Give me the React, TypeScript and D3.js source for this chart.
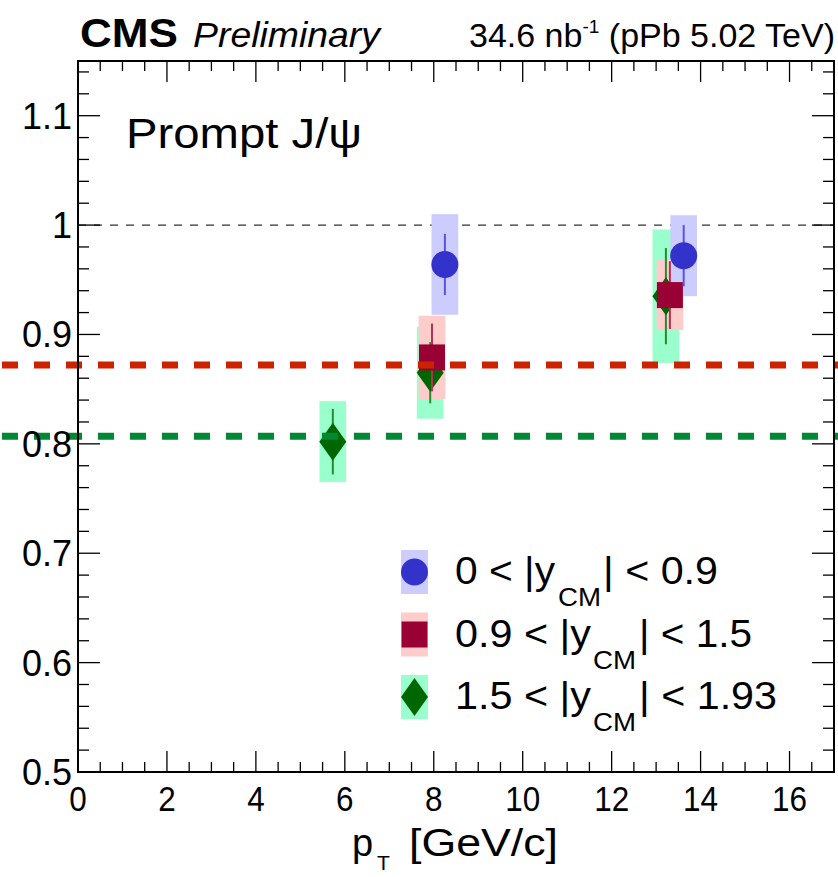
import React from "react";
import * as d3 from "d3";

// values
const xTicks = [0, 2, 4, 6, 8, 10, 12, 14, 16];
const yTicks = [0.5, 0.6, 0.7, 0.8, 0.9, 1, 1.1];
const yTickLabels = ["0.5", "0.6", "0.7", "0.8", "0.9", "1", "1.1"];

const bluePt = [8.25, 13.62];
const blueVal = [0.964, 0.972];
const blueStat = [0.028, 0.028];
const blueSyst = [0.046, 0.037];

const redPt = [7.96, 13.31];
const redVal = [0.879, 0.936];
const redStat = [0.031, 0.031];
const redSyst = [0.038, 0.032];

const greenPt = [5.73, 7.92, 13.22];
const greenVal = [0.802, 0.865, 0.935];
const greenStat = [0.03, 0.028, 0.044];
const greenSyst = [0.037, 0.042, 0.061];

const boxHalfWidth = 0.3;
const redLineVal = 0.872;
const greenLineVal = 0.807;

const W = 838;
const H = 877;
const margin = { top: 61, right: 4, bottom: 105, left: 78 };

const font = "'Liberation Sans', Arial, Helvetica, sans-serif";

const series = [
  { name: "green", pt: greenPt, val: greenVal, stat: greenStat, syst: greenSyst, marker: "diamond", color: "#006600", box: "#99ffcc", bar: "#2a8a2a" },
  { name: "red", pt: redPt, val: redVal, stat: redStat, syst: redSyst, marker: "square", color: "#990033", box: "#ffcccc", bar: "#b03355" },
  { name: "blue", pt: bluePt, val: blueVal, stat: blueStat, syst: blueSyst, marker: "circle", color: "#3333cc", box: "#ccccff", bar: "#5555dd" },
];

const Marker = ({ kind, cx, cy, color }: { kind: string; cx: number; cy: number; color: string }) => {
  if (kind === "circle") return <circle cx={cx} cy={cy} r={13.5} fill={color} />;
  if (kind === "square") return <rect x={cx - 13} y={cy - 13} width={26} height={26} fill={color} />;
  return (
    <path
      d={`M${cx},${cy - 19}L${cx + 13.5},${cy}L${cx},${cy + 19}L${cx - 13.5},${cy}Z`}
      fill={color}
    />
  );
};

// legend text pieces: main, subscript, rest, with their x spans
const legendRows = [
  { idx: 2, a: "0 < |y", b: "| < 0.9", ax: 455, al: 100, sx: 558, bx: 603, bl: 115 },
  { idx: 1, a: "0.9 < |y", b: "| < 1.5", ax: 455, al: 136, sx: 593, bx: 639, bl: 113 },
  { idx: 0, a: "1.5 < |y", b: "| < 1.93", ax: 455, al: 136, sx: 593, bx: 639, bl: 138 },
];

const App = () => {
  const x = d3.scaleLinear().domain([0, 17]).range([margin.left, W - margin.right]);
  const y = d3.scaleLinear().domain([0.5, 1.15]).range([H - margin.bottom, margin.top]);
  const x0 = x.range()[0];
  const x1 = x.range()[1];
  const y0 = y.range()[0];
  const y1 = y.range()[1];

  const xMinor = d3.range(0, 17.01, 0.5).filter((v) => Math.abs(v % 2) > 1e-6);
  const yMinor = d3.range(0.5, 1.151, 0.02).filter((v) => Math.abs(Math.round(v * 10) - v * 10) > 1e-6);

  return (
    <div style={{ position: "absolute", left: 0, top: 0 }}>
      <svg width={W} height={H} style={{ display: "block", background: "#fff" }}>
        {/* header */}
        <text x={80} y={47} fontFamily={font} fontWeight="bold" fontSize={41} textLength={98} lengthAdjust="spacingAndGlyphs">CMS</text>
        <text x={193} y={47} fontFamily={font} fontStyle="italic" fontSize={35} textLength={187} lengthAdjust="spacingAndGlyphs">Preliminary</text>
        <text x={835} y={47} fontFamily={font} fontSize={34} textAnchor="end">
          34.6 nb<tspan dy={-14} fontSize={19}>-1</tspan>
          <tspan dy={14}> (pPb 5.02 TeV)</tspan>
        </text>

        {/* reference line at 1 */}
        <line x1={x0} x2={x1} y1={y(1)} y2={y(1)} stroke="#333" strokeWidth={1.3} strokeDasharray="8,8" />

        {/* syst boxes */}
        {series.map((s) =>
          s.pt.map((p, i) => (
            <rect
              key={s.name + "b" + i}
              x={x(p - boxHalfWidth)}
              width={x(p + boxHalfWidth) - x(p - boxHalfWidth)}
              y={y(s.val[i] + s.syst[i])}
              height={y(s.val[i] - s.syst[i]) - y(s.val[i] + s.syst[i])}
              fill={s.box}
            />
          ))
        )}

        {/* stat bars and markers */}
        {series.map((s) =>
          s.pt.map((p, i) => (
            <g key={s.name + "m" + i}>
              <line x1={x(p)} x2={x(p)} y1={y(s.val[i] + s.stat[i])} y2={y(s.val[i] - s.stat[i])} stroke={s.bar} strokeWidth={2} />
              <Marker kind={s.marker} cx={x(p)} cy={y(s.val[i])} color={s.color} />
            </g>
          ))
        )}

        {/* dashed lines across full width */}
        <line x1={2} x2={W} y1={y(redLineVal)} y2={y(redLineVal)} stroke="#cc2200" strokeWidth={7} strokeDasharray="16,16" />
        <line x1={2} x2={W} y1={y(greenLineVal)} y2={y(greenLineVal)} stroke="#008833" strokeWidth={7} strokeDasharray="16,16" />

        {/* frame */}
        <rect x={x0} y={y1} width={x1 - x0} height={y0 - y1} fill="none" stroke="#000" strokeWidth={2} />

        {/* x ticks */}
        {xTicks.map((t) => (
          <g key={"xt" + t}>
            <line x1={x(t)} x2={x(t)} y1={y0} y2={y0 - 21} stroke="#000" strokeWidth={1.3} />
            <line x1={x(t)} x2={x(t)} y1={y1} y2={y1 + 21} stroke="#000" strokeWidth={1.3} />
            <text x={x(t)} y={811} fontFamily={font} fontSize={35} textAnchor="middle"
              textLength={String(t).length * 17.5} lengthAdjust="spacingAndGlyphs">{t}</text>
          </g>
        ))}
        {xMinor.map((t) => (
          <g key={"xm" + t}>
            <line x1={x(t)} x2={x(t)} y1={y0} y2={y0 - 10} stroke="#000" strokeWidth={1.3} />
            <line x1={x(t)} x2={x(t)} y1={y1} y2={y1 + 10} stroke="#000" strokeWidth={1.3} />
          </g>
        ))}

        {/* y ticks */}
        {yTicks.map((t, i) => (
          <g key={"yt" + t}>
            <line x1={x0} x2={x0 + 22} y1={y(t)} y2={y(t)} stroke="#000" strokeWidth={1.3} />
            <line x1={x1} x2={x1 - 22} y1={y(t)} y2={y(t)} stroke="#000" strokeWidth={1.3} />
            <text x={72} y={y(t) + 13} fontFamily={font} fontSize={36} textAnchor="end">{yTickLabels[i]}</text>
          </g>
        ))}
        {yMinor.map((t) => (
          <g key={"ym" + t}>
            <line x1={x0} x2={x0 + 11} y1={y(t)} y2={y(t)} stroke="#000" strokeWidth={1.3} />
            <line x1={x1} x2={x1 - 11} y1={y(t)} y2={y(t)} stroke="#000" strokeWidth={1.3} />
          </g>
        ))}

        {/* label */}
        <text x={126} y={148} fontFamily={font} fontSize={42} textLength={236} lengthAdjust="spacingAndGlyphs">Prompt J/ψ</text>

        {/* axis title */}
        <text x={352} y={856} fontFamily={font} fontSize={38}>p</text>
        <text x={377} y={870} fontFamily={font} fontSize={21}>T</text>
        <text x={409} y={856} fontFamily={font} fontSize={38} textLength={149} lengthAdjust="spacingAndGlyphs">[GeV/c]</text>

        {/* legend */}
        {legendRows.map((r, i) => {
          const cy = 572 + i * 62.5;
          const s = series[r.idx];
          return (
            <g key={"lg" + i}>
              <rect x={401} y={cy - 22} width={27} height={44} fill={s.box} />
              <Marker kind={s.marker} cx={414.5} cy={cy} color={s.color} />
              <text x={r.ax} y={cy + 12} fontFamily={font} fontSize={38} textLength={r.al} lengthAdjust="spacingAndGlyphs">{r.a}</text>
              <text x={r.sx} y={cy + 34} fontFamily={font} fontSize={25} textLength={43} lengthAdjust="spacingAndGlyphs">CM</text>
              <text x={r.bx} y={cy + 12} fontFamily={font} fontSize={38} textLength={r.bl} lengthAdjust="spacingAndGlyphs">{r.b}</text>
            </g>
          );
        })}
      </svg>
    </div>
  );
};

export default App;
